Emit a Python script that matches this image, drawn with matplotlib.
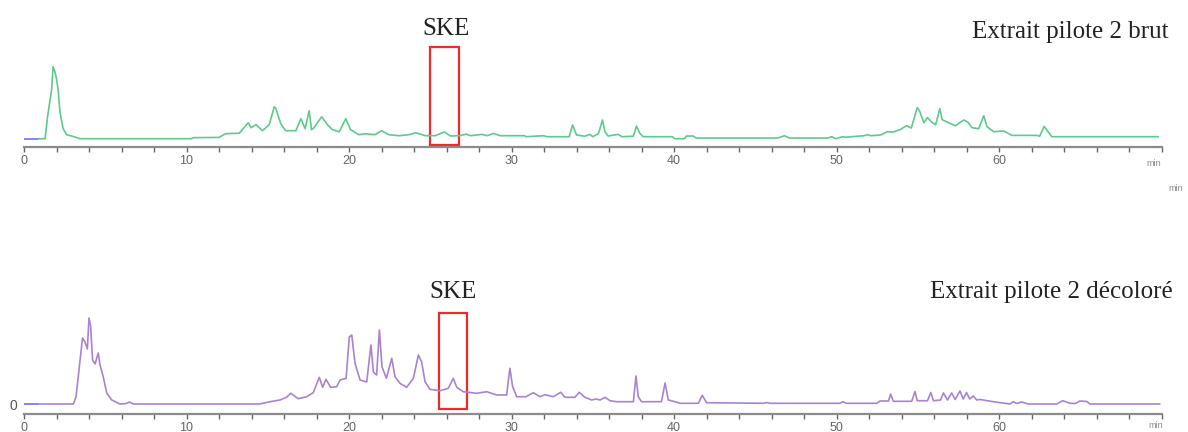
import matplotlib.pyplot as plt
from matplotlib.patches import Rectangle

# retention time (min) and detector signal
blank_t = [0, 0.88]
blank_y = [0, 0]

brut_t = [0.88, 1.30, 1.45, 1.70, 1.79, 1.90, 2.00, 2.10, 2.21, 2.41, 2.62, 3.23, 3.44,
          10.3, 10.4, 12.0, 12.4, 13.25, 13.8, 13.97, 14.28, 14.68, 15.09, 15.4, 15.5,
          15.8, 16.1, 16.73, 17.04, 17.3, 17.55, 17.69, 17.85, 18.32, 18.67, 18.98, 19.4,
          19.8, 20.1, 20.6, 21.0, 21.6, 22.0, 22.45, 23.07, 23.7, 24.1, 24.7, 25.3, 25.87,
          26.24, 26.8, 27.2, 27.5, 28.18, 28.5, 28.9, 29.3, 30.8, 30.9, 31.96, 32.2, 33.55,
          33.76, 34.0, 34.5, 34.83, 35.0, 35.35, 35.6, 35.75, 35.95, 36.56, 36.8, 37.5,
          37.69, 37.9, 38.1, 39.9, 40.04, 40.65, 40.76, 41.17, 41.37, 46.4, 46.79, 47.1,
          49.45, 49.7, 49.96, 50.37, 50.57, 51.7, 51.9, 52.1, 52.7, 53.13, 53.5, 53.94,
          54.3, 54.6, 54.97, 55.11, 55.38, 55.6, 55.9, 56.1, 56.36, 56.5, 56.9, 57.32,
          57.83, 58.08, 58.34, 58.75, 59.06, 59.26, 59.67, 60.29, 60.8, 62.33, 62.5, 62.78,
          63.05, 63.25, 69.8]
brut_y = [0, 0, 22, 49, 72, 67, 60, 49, 27, 10, 4, 1.3, 0,
          0, 1, 1.3, 5, 5.5, 16, 11, 14, 8, 14, 32, 30,
          15, 8, 8, 20, 10, 28, 9, 11, 22, 14, 9, 7,
          20, 9, 4, 5, 4, 8, 4, 3, 4, 6, 3, 3, 6.7,
          2.7, 3, 4.5, 3, 4.3, 3, 5.3, 3, 3, 2, 3, 2, 2,
          13.7, 3.7, 2.5, 4.3, 2, 5, 18.7, 7, 2.7, 4.3, 2, 2.5,
          12.7, 5.3, 2, 2, 0, 0, 2.7, 2.7, 0.7, 0.7, 3, 0.7,
          0.7, 2, 0, 2, 1.5, 3, 4, 3, 3.7, 7, 6.7, 9.3,
          13, 10.7, 31, 27.7, 16, 21, 16, 14, 30, 19, 16, 13,
          18.7, 16.7, 11, 10, 23, 12, 7, 7.7, 3.3, 3.3, 2.5, 12.3,
          6.3, 2, 2]

decolore_t = [0.88, 3.04, 3.2, 3.45, 3.6, 3.75, 3.9, 4.0, 4.1, 4.22, 4.37, 4.57, 4.68, 4.88,
              5.09, 5.4, 5.9, 6.3, 6.48, 6.73, 14.5, 15.14, 15.75, 16.16, 16.41, 16.88,
              17.4, 17.8, 18.17, 18.38, 18.58, 18.87, 19.24, 19.45, 19.82, 20.02, 20.17,
              20.37, 20.68, 21.09, 21.35, 21.5, 21.7, 21.87, 22.03, 22.3, 22.63, 22.83,
              23.14, 23.55, 23.96, 24.27, 24.47, 24.68, 24.98, 25.6, 26.11, 26.42, 26.63,
              27.03, 27.86, 28.47, 29.09, 29.7, 29.9, 30.07, 30.32, 30.9, 31.34, 31.75,
              32.06, 32.57, 33.03, 33.29, 33.9, 34.17, 34.52, 34.93, 35.2, 35.45, 35.75,
              36.06, 36.47, 37.5, 37.66, 37.8, 38.0, 39.23, 39.45, 39.65, 40.06, 40.37,
              41.5, 41.74, 42.0, 45.5, 45.7, 45.9, 50.2, 50.4, 50.6, 52.47, 52.68, 53.2,
              53.33, 53.5, 54.63, 54.83, 54.97, 55.6, 55.8, 55.97, 56.4, 56.58, 56.83,
              57.09, 57.3, 57.6, 57.8, 58.0, 58.2, 58.42, 58.63, 58.83, 59.65, 60.68,
              60.88, 61.1, 61.4, 61.8, 63.55, 63.92, 64.37, 64.7, 64.98, 65.4, 65.6, 69.9]
decolore_y = [0, 0, 7, 44, 66, 62, 55, 86, 78, 44, 40, 51, 39, 27,
              11, 4, 0, 0.5, 2, 0, 0, 2.3, 4, 6.7, 10.7, 5.3,
              7.3, 11.3, 26.7, 16.7, 24.7, 16.7, 17.3, 24, 25.7, 67, 69,
              40.7, 24, 22, 59, 32, 29, 74, 37.3, 25.7, 45.7, 27.3,
              20.7, 16.7, 25.7, 49, 42, 22.3, 14.7, 13.3, 15.7, 25.7, 16.7,
              12.3, 10.7, 12.3, 9, 9, 35.7, 17.3, 7.3, 7.3, 11.3, 7.3,
              9.3, 7.3, 11.7, 6.7, 6.7, 11.7, 6.7, 4, 5, 4, 6.7,
              3.3, 2.3, 2.3, 28, 7.3, 2.3, 2.3, 21, 4, 2.3, 0.7,
              0.7, 8.7, 1.3, 0.7, 1.5, 0.7, 0.7, 2.3, 0.7, 0.7, 3, 3,
              10, 2.7, 2.7, 12.5, 3.3, 3.3, 11.5, 3.3, 4, 11, 4,
              11, 4.5, 13, 5, 11.5, 5, 8, 4, 4.5, 2.3, 0,
              2.3, 0.5, 2, 0, 0, 3.3, 0.7, 0.5, 3, 2.5, 0, 0]

major_ticks = [0, 10, 20, 30, 40, 50, 60, 70]
major_labels = ['0', '10', '20', '30', '40', '50', '60', '']

W, H = 1188, 432
fig = plt.figure(figsize=(W / 100, H / 100), dpi=100)
fig.patch.set_facecolor('white')


def px_axes(left, bottom_from_top, width, height):
    # axes placed in pixel units, measured from the top-left corner
    return fig.add_axes([left / W, (H - bottom_from_top) / H, width / W, height / H])


def style_axis(ax, ylim):
    ax.set_xlim(0, 70)
    ax.set_ylim(*ylim)
    for side in ['top', 'right', 'left']:
        ax.spines[side].set_visible(False)
    ax.spines['bottom'].set_color('#8c8c8c')
    ax.spines['bottom'].set_linewidth(1.6)
    ax.set_xticks(major_ticks)
    ax.set_xticklabels(major_labels, fontfamily='Liberation Sans', fontsize=9, color='#666666')
    ax.set_xticks(range(0, 71, 2), minor=True)
    ax.tick_params(axis='x', which='both', direction='out', length=3.5, width=1,
                   color='#666666', pad=2)
    ax.patch.set_alpha(0)


def px(x, y):
    return x / W, (H - y) / H


line = dict(lw=1.2, solid_joinstyle='round', solid_capstyle='round')

# top chromatogram: crude extract
ax1 = px_axes(24, 147, 1137.5, 130)
ax1.plot(blank_t, blank_y, color='#6f6cf2', **line)
ax1.plot(brut_t, brut_y, color='#5ccb8c', **line)
style_axis(ax1, (-8.3, 121.7))
ax1.set_yticks([])
ax1.add_patch(Rectangle((24.98, -6), 1.8, 97.7, fill=False, edgecolor='#ee2a2a', lw=1.6))

# bottom chromatogram: decolorised extract
ax2 = px_axes(24, 414, 1137.5, 130)
ax2.plot(blank_t, blank_y, color='#6f6cf2', **line)
ax2.plot(decolore_t, decolore_y, color='#a883d4', **line)
style_axis(ax2, (-10, 120))
ax2.set_yticks([0])
ax2.set_yticklabels(['0'], fontfamily='Liberation Sans', fontsize=10, color='#555555')
ax2.tick_params(axis='y', length=0, pad=5)
ax2.add_patch(Rectangle((25.55, -5), 1.72, 96, fill=False, edgecolor='#ee2a2a', lw=1.6))

serif = dict(fontfamily='Liberation Serif', fontsize=18, color='#222222', va='baseline')
fig.text(*px(445.5, 35), 'SKE', ha='center', **serif)
fig.text(*px(1168, 38), 'Extrait pilote 2 brut', ha='right', **serif)
fig.text(*px(453, 298), 'SKE', ha='center', **serif)
fig.text(*px(1173, 298), 'Extrait pilote 2 décoloré', ha='right', **serif)

small = dict(fontfamily='Liberation Sans', fontsize=6.5, color='#888888', ha='center', va='center')
fig.text(*px(1154, 163), 'min', **small)
fig.text(*px(1176, 188), 'min', **small)
fig.text(*px(1156, 425), 'min', **small)

fig.savefig('out.png', dpi=100)
